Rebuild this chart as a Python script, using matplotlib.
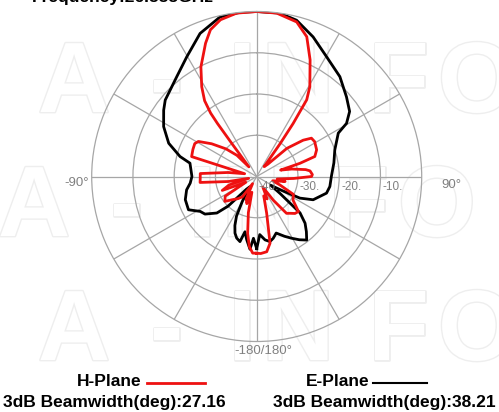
import numpy as np
import matplotlib.pyplot as plt
import matplotlib.patheffects as pe
from matplotlib.lines import Line2D

plt.rcParams['font.family'] = ['Liberation Sans', 'DejaVu Sans']

# H-plane pattern (deg, dB)
h_ang = [-180, -177, -174, -171, -167, -163, -160, -155, -150, -145, -140, -133,
         -128, -122, -118, -112, -107, -103, -100, -96, -92, -87, -82, -77,
         -73, -67, -62, -59, -54, -48, -43, -39, -37, -36.5, -36, -34.5, -31.5,
         -27, -21, -17.5, -13, -7, 0, 7, 14.5, 19.7, 24.6, 30.6, 33.1, 34.5,
         35.5, 37, 42, 47, 52, 55, 59, 66, 71, 73, 75, 78, 82, 84, 88, 90, 93,
         97, 100, 105, 110, 116, 123, 130, 134, 138, 141, 145, 150, 155, 160,
         164.8, 168.7, 172.4, 177, 180]
h_db = [-21.4, -21.4, -22.9, -26, -31, -36, -33, -34, -38, -34, -33, -31.7,
        -30.2, -31, -37, -31, -33, -38, -33, -26.2, -26.3, -26.3, -33, -37,
        -23.5, -23.2, -23, -23.5, -26.5, -30, -33, -37, -30, -24, -21, -17.7, -14.5,
        -10.2, -5.4, -2.7, -1.0, -0.1, 0, -0.1, -1.3, -4.0, -8.9, -14.7, -17.8, -24.4,
        -30.2, -37, -36, -30, -25.7, -23.8, -23.6, -24.1, -25.1, -29, -34, -31.3, -28, -27, -26.5, -26.7, -31,
        -35, -33, -36, -34, -30.1, -29.5, -26.8, -27.1, -28, -28.5, -33, -37, -34, -35,
        -30.8, -23.5, -21.6, -21.3, -21.4]

# E-plane pattern (deg, dB)
e_ang = [-180, -177, -174.7, -171, -168, -165.6, -162, -159, -156, -153, -150,
         -146, -141, -136, -132.5, -126, -121.7, -116, -108, -100.8, -95.7, -90,
         -78.7, -75.4, -69.3, -61.8, -54.5, -50.1, -38.7, -30.3, -21.6, -12.9,
         -5.8, 0, 8, 14.3, 22, 30.3, 39.8, 48.4, 55, 59.4, 62, 71.2, 80, 90,
         97.8, 103.4, 112.4, 116.6, 119, 122, 126, 130, 134, 138, 141.8, 146,
         150.5, 155, 161, 165, 168.5, 172.5, 177, 180]
e_db = [-22.5, -25, -22.3, -24.5, -26.3, -23.7, -24.3, -25.3, -27, -29.2, -33,
        -37, -36, -30, -26.9, -24.5, -23.9, -21.6, -21.8, -22.7, -23.8, -24.3,
        -23.5, -20.8, -17.2, -14.4, -12.3, -11.1, -9.0, -6.4, -2.7, -0.3,
        0, 0, 0, -0.9, -3.5, -6.4, -8.5, -10.9, -12.5, -14.7, -17.6, -20, -21, -21.9,
        -22.1, -22.6, -25.2, -28.3, -33, -36, -33, -26.3, -23.7, -22, -20.4, -21.5,
        -22.8, -24, -25.5, -24.5, -23.9, -24.5, -25.9, -22.5]

r_ticks = [-40, -30, -20, -10]
r_labels = ['-40.', '-30.', '-20.', '-10.']
title = 'Frequency:26.535GHz'
h_bw = 27.16
e_bw = 38.21

W, H = 499, 412
fig = plt.figure(figsize=(W / 100, H / 100), dpi=100)

def fx(x):
    return x / W

def fy(y):
    return 1 - y / H

# faint watermark
wm_letters = ['A', '-', 'I', 'N', 'F', 'O']
wm_x = [38, 150, 228, 262, 368, 438]
for row_y, shift in [(112, 0), (236, -40), (360, 0)]:
    for ch, x in zip(wm_letters, wm_x):
        fig.text(fx(x + shift), fy(row_y), ch, fontsize=72, fontweight='bold',
                 color='white', ha='left', va='baseline', zorder=-5,
                 path_effects=[pe.withStroke(linewidth=2, foreground='#eeeeee')])

cx, cy, R = 256.7, 176.5, 165
ax = fig.add_axes([(cx - R) / W, (H - cy - R) / H, 2 * R / W, 2 * R / H],
                  projection='polar')
ax.patch.set_alpha(0)
ax.set_theta_zero_location('N')
ax.set_theta_direction(-1)
ax.set_ylim(-40, 0)
ax.set_thetagrids(range(0, 360, 30), labels=[''] * 12)
ax.set_rgrids(r_ticks[1:], labels=[''] * 3)
ax.grid(True, color='#a6a6a6', lw=0.9)
ax.spines['polar'].set_color('#a6a6a6')
ax.spines['polar'].set_linewidth(0.9)

ax.plot(np.radians(e_ang), e_db, color='black', lw=2)
ax.plot(np.radians(h_ang), h_db, color='#ee1111', lw=2)

for r, lab in zip(r_ticks, r_labels):
    ax.annotate(lab, xy=(np.pi / 2, r), xytext=(2, -10), textcoords='offset pixels',
                ha='left', va='center', fontsize=8.5, color='#808080')
ax.annotate('-90°', xy=(-np.pi / 2, 0), xytext=(-3, -7), textcoords='offset pixels',
            ha='right', va='center', fontsize=9.5, color='#808080', annotation_clip=False)
ax.annotate('90°', xy=(np.pi / 2, 0), xytext=(20, -9), textcoords='offset pixels',
            ha='left', va='center', fontsize=9.5, color='#808080', annotation_clip=False)
ax.annotate('-180/180°', xy=(np.pi, 0), xytext=(-22, -9), textcoords='offset pixels',
            ha='left', va='center', fontsize=9.5, color='#808080', annotation_clip=False)

fig.text(fx(32), fy(2), title, fontsize=12.5, fontweight='bold', ha='left', va='baseline')

fig.text(fx(77), fy(381), 'H-Plane', fontsize=12.5, fontweight='bold', ha='left', va='center')
fig.add_artist(Line2D([fx(147), fx(205)], [fy(383), fy(383)], color='#ee1111', lw=2))
fig.text(fx(3), fy(402), f'3dB Beamwidth(deg):{h_bw:.2f}', fontsize=12.5,
         fontweight='bold', ha='left', va='center')
fig.text(fx(306), fy(381), 'E-Plane', fontsize=12.5, fontweight='bold', ha='left', va='center')
fig.add_artist(Line2D([fx(373), fx(427)], [fy(383), fy(383)], color='black', lw=1.5))
fig.text(fx(273), fy(402), f'3dB Beamwidth(deg):{e_bw:.2f}', fontsize=12.5,
         fontweight='bold', ha='left', va='center')

fig.savefig('out.png', dpi=100)
